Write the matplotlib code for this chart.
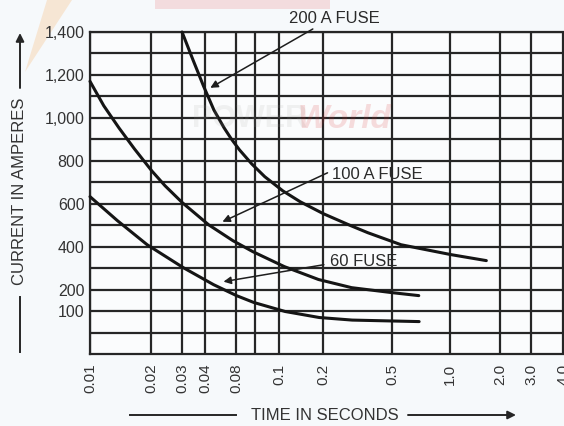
import numpy as np
import matplotlib
matplotlib.use("Agg")
import matplotlib.pyplot as plt
from matplotlib.lines import Line2D
from matplotlib.patches import FancyArrowPatch, Polygon, Rectangle

plt.rcParams["font.family"] = ["Liberation Sans", "DejaVu Sans"]

# ---- axis values -------------------------------------------------------
grid_times = [0.01, 0.02, 0.03, 0.04, 0.08, 0.09, 0.1, 0.2, 0.5, 1.0, 2.0, 3.0, 4.0]
tick_times = [0.01, 0.02, 0.03, 0.04, 0.08, 0.1, 0.2, 0.5, 1.0, 2.0, 3.0, 4.0]
tick_time_labels = ["0.01", "0.02", "0.03", "0.04", "0.08", "0.1", "0.2",
                    "0.5", "1.0", "2.0", "3.0", "4.0"]
current_grid = list(range(0, 1500, 100))
current_ticks = [100, 200, 400, 600, 800, 1000, 1200, 1400]
current_tick_labels = ["100", "200", "400", "600", "800", "1,000", "1,200", "1,400"]

# ---- fuse curves (time in s, current in A) -----------------------------
fuse200_t = [0.030, 0.0344, 0.0392, 0.0487, 0.0613, 0.0719, 0.0817, 0.0881,
             0.0939, 0.106, 0.1396, 0.2013, 0.2884, 0.362, 0.556, 1.01, 1.65]
fuse200_a = [1400, 1270, 1149, 1037, 953, 902, 851, 786, 726, 660, 609, 553,
             498, 465, 409, 363, 335]

fuse100_t = [0.010, 0.0117, 0.0139, 0.01655, 0.0202, 0.024, 0.0301, 0.0433,
             0.0745, 0.0887, 0.1087, 0.186, 0.292, 0.497, 0.687]
fuse100_a = [1170, 1056, 953, 856, 753, 684, 605, 502, 428, 377, 307, 247,
             209, 186, 172]

fuse60_t = [0.010, 0.01366, 0.01914, 0.0305, 0.0484, 0.0802, 0.0893, 0.110,
            0.188, 0.294, 0.69]
fuse60_a = [633, 521, 409, 302, 223, 172, 140, 98, 70, 58, 51]

# ---- uneven printed time ruling: relative stop spacing of the grid ----
time_axis_stops = np.array([90, 151, 182, 205, 236, 255, 279, 323, 392, 450,
                            500, 531, 563], float)
_glog = np.log10(grid_times)


def _fwd(t):
    lt = np.log10(np.clip(np.asarray(t, float), 1e-9, None))
    out = np.interp(lt, _glog, time_axis_stops)
    s0 = (time_axis_stops[1] - time_axis_stops[0]) / (_glog[1] - _glog[0])
    s1 = (time_axis_stops[-1] - time_axis_stops[-2]) / (_glog[-1] - _glog[-2])
    out = np.where(lt < _glog[0], time_axis_stops[0] + (lt - _glog[0]) * s0, out)
    out = np.where(lt > _glog[-1], time_axis_stops[-1] + (lt - _glog[-1]) * s1, out)
    return out


def _inv(p):
    p = np.asarray(p, float)
    lt = np.interp(p, time_axis_stops, _glog)
    s0 = (_glog[1] - _glog[0]) / (time_axis_stops[1] - time_axis_stops[0])
    s1 = (_glog[-1] - _glog[-2]) / (time_axis_stops[-1] - time_axis_stops[-2])
    lt = np.where(p < time_axis_stops[0], _glog[0] + (p - time_axis_stops[0]) * s0, lt)
    lt = np.where(p > time_axis_stops[-1], _glog[-1] + (p - time_axis_stops[-1]) * s1, lt)
    return 10.0 ** lt


W, H = 564, 426


def fx(px):
    return px / W


def fy(py):
    return 1 - py / H


fig = plt.figure(figsize=(W / 100, H / 100), dpi=100, facecolor="#f6f9fb")

# faint logo pieces printed behind the chart
fig.add_artist(Polygon([(fx(25), fy(72)), (fx(47), fy(0)), (fx(72), fy(0))],
                       closed=True, transform=fig.transFigure,
                       facecolor="#f7c48c", edgecolor="none", alpha=0.35, zorder=0))
fig.add_artist(Rectangle((fx(155), fy(9)), fx(330) - fx(155), fy(0) - fy(9),
                         transform=fig.transFigure, facecolor="#f0a8a8",
                         edgecolor="none", alpha=0.35, zorder=0))

ax = fig.add_axes([fx(90), fy(354), fx(566) - fx(90), fy(32) - fy(354)])
ax.set_facecolor("#fbfcfd")
ax.set_xscale("function", functions=(_fwd, _inv))
ax.set_xlim(0.01, 4.1)
ax.set_ylim(-100, 1400)

ink = "#262626"

# ruling
for t in grid_times:
    ax.axvline(t, color=ink, lw=1.6, zorder=2)
for c in current_grid:
    ax.axhline(c, color=ink, lw=1.6, zorder=2)

for sp in ax.spines.values():
    sp.set_color(ink)
    sp.set_linewidth(1.6)
ax.spines["right"].set_visible(False)

ax.set_xticks(tick_times)
ax.set_xticklabels(tick_time_labels, rotation=90, va="top")
ax.xaxis.set_minor_locator(matplotlib.ticker.NullLocator())
ax.set_yticks(current_ticks)
ax.set_yticklabels(current_tick_labels)
ax.tick_params(axis="x", length=0, pad=7, labelsize=11, labelcolor="#333333")
ax.tick_params(axis="y", length=0, pad=4, labelsize=11.5, labelcolor="#333333")

# watermark
fig.text(0.34, 0.72, "POWER", fontsize=22, fontweight="bold", color="#9a9a9a",
         alpha=0.12, ha="left", va="center", zorder=0)
fig.text(0.527, 0.72, "World", fontsize=24, fontweight="bold", style="italic",
         color="#d83030", alpha=0.16, ha="left", va="center", zorder=0)

# curves
for t, a in [(fuse200_t, fuse200_a), (fuse100_t, fuse100_a), (fuse60_t, fuse60_a)]:
    ax.plot(t, a, color="#151515", lw=2.2, solid_capstyle="round",
            solid_joinstyle="round", zorder=4, clip_on=False)

# callouts
arrow_kw = dict(arrowstyle="-|>", color="#1e1e1e", lw=1.1, mutation_scale=11,
                shrinkA=0, shrinkB=0)
ax.annotate("", xy=(0.045, 1140), xytext=(0.17, 1414), arrowprops=arrow_kw,
            annotation_clip=False, zorder=5)
ax.text(0.233, 1465, "200 A FUSE", fontsize=12, color="#2a2a2a", ha="center",
        va="center", clip_on=False, zorder=5)

ax.annotate("", xy=(0.059, 516), xytext=(0.212, 744), arrowprops=arrow_kw,
            annotation_clip=False, zorder=5)
ax.text(0.226, 735, "100 A FUSE", fontsize=12, color="#2a2a2a", ha="left",
        va="center", zorder=5)

ax.annotate("", xy=(0.0604, 237), xytext=(0.202, 316), arrowprops=arrow_kw,
            annotation_clip=False, zorder=5)
ax.text(0.22, 330, "60 FUSE", fontsize=12, color="#2a2a2a", ha="left",
        va="center", zorder=5)

# vertical axis title with leader line and arrow
fig.text(fx(20), fy(191), "CURRENT IN AMPERES", rotation=90, fontsize=12,
         color="#333333", ha="center", va="center")
fig.add_artist(Line2D([fx(20), fx(20)], [fy(352), fy(297)], color=ink, lw=1.4))
fig.add_artist(FancyArrowPatch(
    (fx(20), fy(88)), (fx(20), fy(33)), transform=fig.transFigure,
    arrowstyle="-|>", mutation_scale=12, color=ink, lw=1.4, shrinkA=0, shrinkB=0))

# horizontal axis title with leader line and arrow
fig.text(fx(325), fy(416), "TIME IN SECONDS", fontsize=12, color="#333333",
         ha="center", va="center")
fig.add_artist(Line2D([fx(130), fx(236)], [fy(415), fy(415)], color=ink, lw=1.4))
fig.add_artist(FancyArrowPatch(
    (fx(408), fy(415)), (fx(516), fy(415)), transform=fig.transFigure,
    arrowstyle="-|>", mutation_scale=12, color=ink, lw=1.4, shrinkA=0, shrinkB=0))

fig.savefig("out.png", dpi=100, facecolor=fig.get_facecolor())
